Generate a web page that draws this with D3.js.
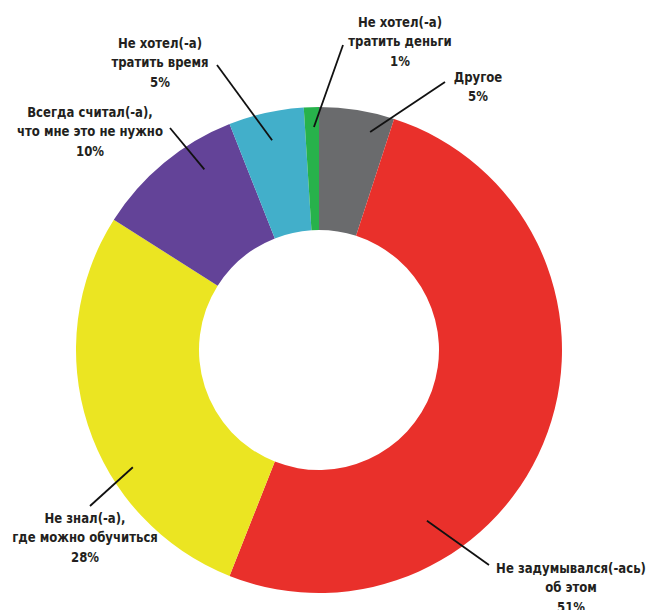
<!DOCTYPE html>
<html>
<head>
<meta charset="utf-8">
<script src="https://cdn.jsdelivr.net/npm/d3@7"></script>
<style>
  html, body { margin: 0; padding: 0; background: #fff; }
  text { font-family: "Liberation Sans Narrow", "DejaVu Sans Condensed", "Noto Sans", sans-serif; font-weight: bold; fill: #231f20; }
</style>
</head>
<body>
<div id="chart"></div>
<script>
// причины, по которым не проходили обучение
var categories = ["Другое", "Не задумывался(-ась) об этом", "Не знал(-а), где можно обучиться",
                  "Всегда считал(-а), что мне это не нужно", "Не хотел(-а) тратить время", "Не хотел(-а) тратить деньги"];
var values = [5, 51, 28, 10, 5, 1];
var labelLines = [
    ["Другое", "5%"],
    ["Не задумывался(-ась)", "об этом", "51%"],
    ["Не знал(-а),", "где можно обучиться", "28%"],
    ["Всегда считал(-а),", "что мне это не нужно", "10%"],
    ["Не хотел(-а)", "тратить время", "5%"],
    ["Не хотел(-а)", "тратить деньги", "1%"]
];
var colors = ["#6a6b6d", "#e9302b", "#ebe522", "#634398", "#42afca", "#27b24b"];

// раскладка подписей (положение текста и выносок)
var labelPos = [[478, 82], [571, 573], [85, 523], [90, 117], [160, 48], [400, 27]];
var leaderOut = [[445, 82], [489, 565], [90, 506], [170, 128], [217, 65], [343, 45]];
var leaderIn = [[13.2, 224], [147.7, 202], [237.8, 220], [327.6, 214], [347.4, 215], [358.7, 223]];

var width = 649, height = 610,
    cx = 319, cy = 350,
    outerR = 243, innerR = 120,
    lineH = 19.5;

var svg = d3.select("#chart").append("svg")
    .attr("width", width)
    .attr("height", height);

var g = svg.append("g").attr("transform", "translate(" + cx + "," + cy + ")");

var pie = d3.pie().sort(null).value(function (d) { return d; });
var arc = d3.arc().innerRadius(innerR).outerRadius(outerR);

var arcs = pie(values);

g.selectAll("path.slice")
    .data(arcs)
    .enter().append("path")
    .attr("class", "slice")
    .attr("d", arc)
    .attr("fill", function (d, i) { return colors[i]; });

// выноски
svg.selectAll("line.leader")
    .data(arcs)
    .enter().append("line")
    .attr("class", "leader")
    .attr("x1", function (d, i) { return leaderOut[i][0]; })
    .attr("y1", function (d, i) { return leaderOut[i][1]; })
    .attr("x2", function (d, i) { var a = leaderIn[i][0] * Math.PI / 180; return cx + leaderIn[i][1] * Math.sin(a); })
    .attr("y2", function (d, i) { var a = leaderIn[i][0] * Math.PI / 180; return cy - leaderIn[i][1] * Math.cos(a); })
    .attr("stroke", "#111")
    .attr("stroke-width", 1.8);

var labels = svg.selectAll("text.lbl")
    .data(arcs)
    .enter().append("text")
    .attr("class", "lbl")
    .attr("font-size", "14px")
    .attr("text-anchor", "middle")
    .attr("transform", function (d, i) { return "translate(" + labelPos[i][0] + "," + labelPos[i][1] + ") scale(0.93,1)"; });

labels.selectAll("tspan")
    .data(function (d, i) { return labelLines[i]; })
    .enter().append("tspan")
    .attr("x", 0)
    .attr("y", function (d, j) { return j * lineH; })
    .text(function (d) { return d; });
</script>
</body>
</html>
